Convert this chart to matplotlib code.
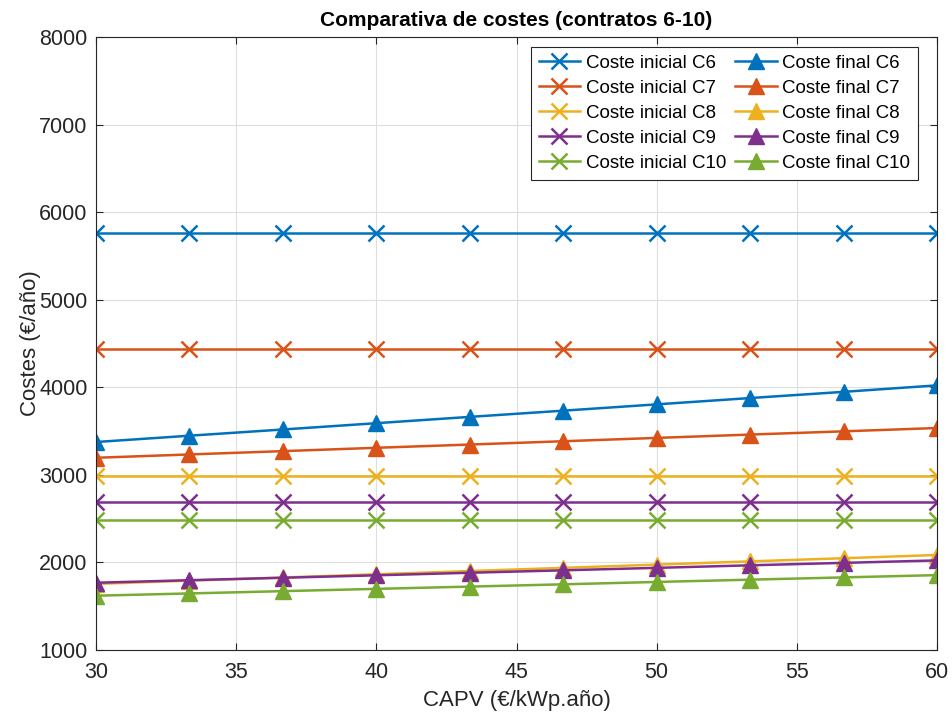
import matplotlib
matplotlib.use('Agg')
import matplotlib.pyplot as plt
import numpy as np

plt.rcParams['font.family'] = ['Liberation Sans', 'DejaVu Sans']

# CAPV (€/kWp.año)
capv = [30, 33.33, 36.67, 40, 43.33, 46.67, 50, 53.33, 56.67, 60]

contratos = ['C6', 'C7', 'C8', 'C9', 'C10']

# coste inicial, constante para cada contrato
coste_inicial = {
    'C6': [5758] * 10,
    'C7': [4436] * 10,
    'C8': [2992] * 10,
    'C9': [2694] * 10,
    'C10': [2482] * 10,
}

# coste final segun CAPV
coste_final = {
    'C6': [3375, 3447, 3518, 3590, 3662, 3733, 3805, 3877, 3948, 4022],
    'C7': [3195, 3233, 3271, 3309, 3346, 3384, 3422, 3460, 3497, 3535],
    'C8': [1755, 1792, 1828, 1865, 1902, 1938, 1975, 2012, 2048, 2085],
    'C9': [1768, 1797, 1825, 1853, 1882, 1910, 1938, 1967, 1995, 2023],
    'C10': [1620, 1646, 1672, 1698, 1724, 1750, 1777, 1803, 1829, 1855],
}

colores = ['#0072BD', '#D95319', '#EDB120', '#7E2F8E', '#77AC30']

fig = plt.figure(figsize=(9.52, 7.2), dpi=100)
ax = fig.add_axes([96 / 952, 70 / 720, 841 / 952, 613 / 720])

for c, col in zip(contratos, colores):
    ax.plot(capv, coste_inicial[c], '-x', color=col, lw=1.8, ms=11, mew=1.8,
            label='Coste inicial ' + c)
for c, col in zip(contratos, colores):
    ax.plot(capv, coste_final[c], '-^', color=col, lw=1.8, ms=11, mew=1,
            label='Coste final ' + c)

ax.set_xlim(30, 60)
ax.set_ylim(1000, 8000)
ax.set_xticks(np.arange(30, 61, 5))
ax.set_yticks(np.arange(1000, 8001, 1000))
ax.grid(True, color='0.87', lw=0.8)
ax.set_axisbelow(True)
ax.tick_params(direction='in', length=5, labelsize=15.5, colors='0.15', top=True, right=True,
               labelcolor='0.15')
ax.tick_params(axis='x', pad=9)
ax.tick_params(axis='y', pad=6)
for s in ax.spines.values():
    s.set_color('0.15')
    s.set_linewidth(0.8)

ax.set_xlabel('CAPV (€/kWp.año)', fontsize=16, color='0.15', labelpad=5)
ax.set_ylabel('Costes (€/año)', fontsize=16, color='0.15', labelpad=-1)
ax.set_title('Comparativa de costes (contratos 6-10)', fontsize=15, fontweight='bold', pad=8)

leg = ax.legend(ncol=2, loc='upper right', bbox_to_anchor=(0.977, 0.983), fontsize=13.5,
                fancybox=False, framealpha=1, edgecolor='0.15', handlelength=2.2,
                handletextpad=0.3, columnspacing=0.5, labelspacing=0.42, borderpad=0.4,
                borderaxespad=0)
leg.get_frame().set_linewidth(0.8)

fig.savefig('out.png', dpi=100)
